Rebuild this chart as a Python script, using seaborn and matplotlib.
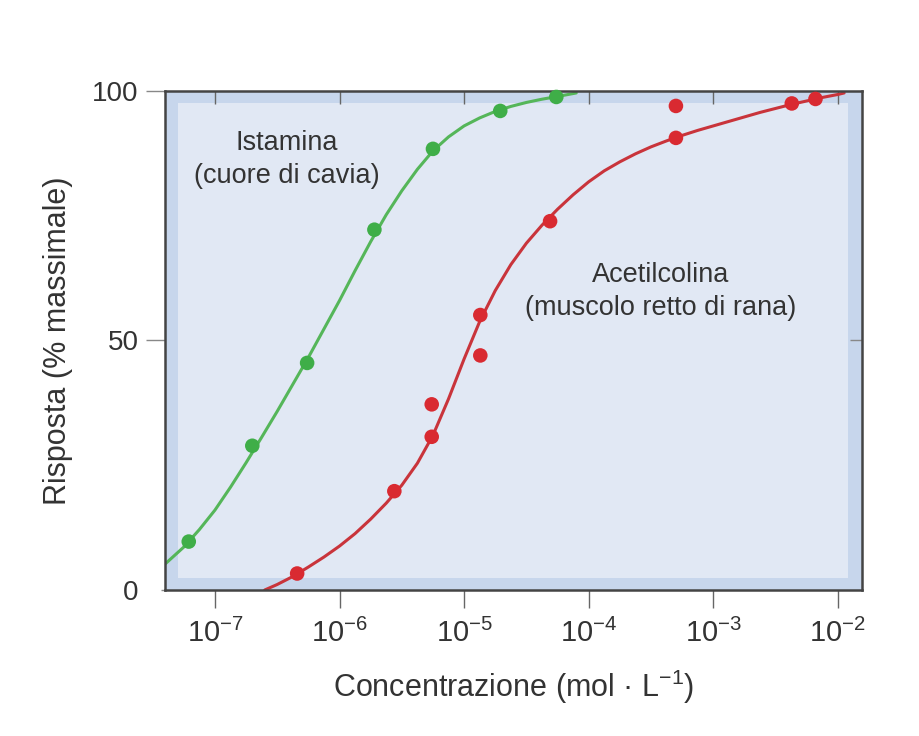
import numpy as np
import pandas as pd
import seaborn as sns
import matplotlib.pyplot as plt
from matplotlib.patches import Rectangle

# measured points (log10 concentration, % of max response)
ist_logc = [-7.21, -6.70, -6.26, -5.72, -5.25, -4.71, -4.26]
ist_resp = [9.7, 28.9, 45.5, 72.2, 88.4, 96.0, 98.8]

ach_logc = [-6.34, -5.56, -5.26, -5.26, -4.87, -4.87, -4.31, -3.30, -3.30, -2.37, -2.18]
ach_resp = [3.3, 19.8, 30.7, 37.2, 55.1, 47.0, 73.9, 97.0, 90.6, 97.5, 98.4]

# fitted curves, every 1/8 decade
ist_curve_logc = [-7.4, -7.25, -7.125, -7.0, -6.875, -6.75, -6.625, -6.5, -6.375, -6.25,
                  -6.125, -6.0, -5.875, -5.75, -5.625, -5.5, -5.375, -5.25, -5.125, -5.0,
                  -4.875, -4.75, -4.625, -4.5, -4.375, -4.25, -4.1]
ist_curve_resp = [5.2, 8.6, 12.1, 16.0, 20.6, 25.5, 30.6, 35.8, 41.2, 46.6,
                  52.3, 58.0, 64.0, 69.8, 75.2, 80.0, 84.3, 88.0, 90.8, 93.0,
                  94.6, 95.9, 96.9, 97.7, 98.35, 98.9, 99.6]

ach_curve_logc = [-6.6, -6.5, -6.375, -6.25, -6.125, -6.0, -5.875, -5.75, -5.625, -5.5,
                  -5.375, -5.25, -5.125, -5.0, -4.875, -4.75, -4.625, -4.5, -4.375, -4.25,
                  -4.125, -4.0, -3.875, -3.75, -3.625, -3.5, -3.375, -3.25, -3.125, -3.0,
                  -2.875, -2.75, -2.625, -2.5, -2.375, -2.25, -2.125, -2.0, -1.95]
ach_curve_resp = [0.0, 1.1, 2.7, 4.6, 6.6, 8.8, 11.3, 14.2, 17.4, 21.0,
                  25.4, 31.0, 38.3, 46.3, 53.8, 60.0, 65.2, 69.5, 73.1, 76.3,
                  79.2, 81.8, 84.0, 85.8, 87.4, 88.8, 90.0, 91.1, 92.1, 93.0,
                  93.9, 94.8, 95.7, 96.5, 97.3, 98.0, 98.7, 99.3, 99.6]

xtick_exp = [-7, -6, -5, -4, -3, -2]
ytick_vals = [0, 50, 100]

green_line = '#55b659'
green_dot = '#3fae48'
red_line = '#c9343b'
red_dot = '#d92a31'

sns.set_style('white')
plt.rcParams['font.family'] = ['Liberation Sans', 'DejaVu Sans']
plt.rcParams['mathtext.fontset'] = 'custom'
plt.rcParams['mathtext.rm'] = 'Liberation Sans'
plt.rcParams['mathtext.it'] = 'Liberation Sans'

ist_pts = pd.DataFrame({'conc': 10.0 ** np.array(ist_logc), 'resp': ist_resp})
ach_pts = pd.DataFrame({'conc': 10.0 ** np.array(ach_logc), 'resp': ach_resp})
ist_fit = pd.DataFrame({'conc': 10.0 ** np.array(ist_curve_logc), 'resp': ist_curve_resp})
ach_fit = pd.DataFrame({'conc': 10.0 ** np.array(ach_curve_logc), 'resp': ach_curve_resp})

fig = plt.figure(figsize=(9.2, 7.36), dpi=100)
ax = fig.add_axes([0.1793, 0.1984, 0.7576, 0.678])
ax.set_facecolor('#c7d6ec')
ax.add_patch(Rectangle((0.0194, 0.024), 0.9606, 0.952, transform=ax.transAxes,
                       facecolor='#e1e8f4', edgecolor='none', zorder=0))

sns.lineplot(data=ist_fit, x='conc', y='resp', color=green_line, lw=2.2, ax=ax, zorder=2)
sns.lineplot(data=ach_fit, x='conc', y='resp', color=red_line, lw=2.2, ax=ax, zorder=2)
sns.scatterplot(data=ist_pts, x='conc', y='resp', color=green_dot, s=110,
                edgecolor='none', ax=ax, zorder=3, clip_on=False)
sns.scatterplot(data=ach_pts, x='conc', y='resp', color=red_dot, s=110,
                edgecolor='none', ax=ax, zorder=3, clip_on=False)

ax.set_xscale('log')
ax.set_xlim(10 ** -7.401, 10 ** -1.807)
ax.set_ylim(0, 100)
ax.minorticks_off()
ax.set_xticks([10.0 ** e for e in xtick_exp])
ax.set_xticklabels([r'$\mathregular{10^{%d}}$' % e for e in xtick_exp])
ax.set_yticks(ytick_vals)
ax.set_yticklabels([str(v) for v in ytick_vals])

ax.tick_params(axis='x', which='major', bottom=True, top=True, direction='out',
               length=13, width=1, color='#666666', labelsize=21, pad=8, labelcolor='#333333')
ax.tick_params(axis='y', which='major', left=True, right=True, direction='out',
               length=14, width=1, color='#888888', labelsize=20, pad=5, labelcolor='#333333')
# top and right ticks point inward, right only at 50
for t in ax.xaxis.get_major_ticks():
    t.tick2line.set_marker(3)
    t.tick2line.set_markersize(9)
for v, t in zip(ytick_vals, ax.yaxis.get_major_ticks()):
    t.tick2line.set_marker(0)
    t.tick2line.set_markersize(9)
    t.tick2line.set_color('#777777')
    if v != 50:
        t.tick2line.set_visible(False)
    if v == 0:
        t.tick1line.set_markersize(3)

for s in ax.spines.values():
    s.set_color('#444444')
    s.set_linewidth(1.8)

ax.set_xlabel(r'Concentrazione (mol · L$\mathregular{^{-1}}$)', fontsize=22,
              color='#333333', labelpad=14)
ax.set_ylabel('Risposta (% massimale)', fontsize=22, color='#333333', labelpad=14)

ax.text(10 ** -6.42, 86.2, 'Istamina\n(cuore di cavia)', fontsize=19.5, color='#333333',
        ha='center', va='center', multialignment='center', linespacing=1.35)
ax.text(10 ** -3.42, 59.8, 'Acetilcolina\n(muscolo retto di rana)', fontsize=19.5,
        color='#333333', ha='center', va='center', multialignment='center', linespacing=1.35)

fig.savefig('out.png', dpi=100)
